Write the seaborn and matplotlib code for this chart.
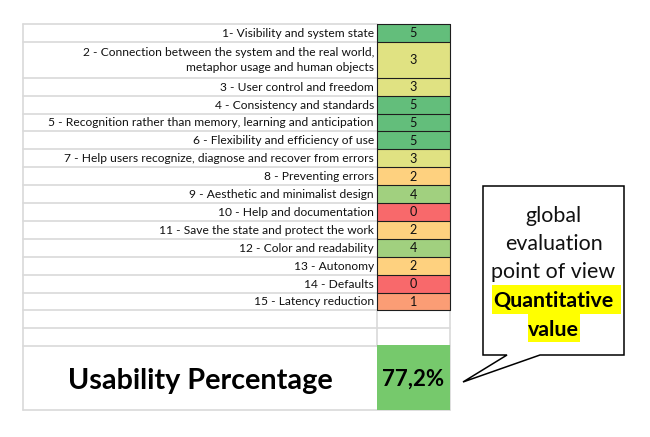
import numpy as np
import pandas as pd
import matplotlib
matplotlib.use("Agg")
import matplotlib.pyplot as plt
import seaborn as sns
from matplotlib import font_manager
from matplotlib.colors import LinearSegmentedColormap
from matplotlib.patches import Polygon, Rectangle

# ---------------- data ----------------
criteria = [
    "1- Visibility and system state",
    "2 - Connection between the system and the real world,\nmetaphor usage and human objects",
    "3 - User control and freedom",
    "4 - Consistency and standards",
    "5 - Recognition rather than memory, learning and anticipation",
    "6 - Flexibility and efficiency of use",
    "7 - Help users recognize, diagnose and recover from errors",
    "8 - Preventing errors",
    "9 - Aesthetic and minimalist design",
    "10 - Help and documentation",
    "11 - Save the state and protect the work",
    "12 - Color and readability",
    "13 - Autonomy",
    "14 - Defaults",
    "15 - Latency reduction",
]
scores = [5, 3, 3, 5, 5, 5, 3, 2, 4, 0, 2, 4, 2, 0, 1]
total_label = "Usability Percentage"
total_value = "77,2%"
callout_lines = ["global", "evaluation", "point of view"]
callout_bold = ["Quantitative", "value"]

# ---------------- layout ----------------
sns.set_theme(style="white")
names = {f.name for f in font_manager.fontManager.ttflist}
FAM = "Lato" if "Lato" in names else "DejaVu Sans"
plt.rcParams["font.family"] = [FAM, "DejaVu Sans"]

W, H = 650, 437
fig = plt.figure(figsize=(W / 100, H / 100), dpi=100)
fig.patch.set_facecolor("white")
ax = fig.add_axes([0, 0, 1, 1])
ax.set_xlim(0, W)
ax.set_ylim(H, 0)
ax.axis("off")
renderer = fig.canvas.get_renderer()


def fit(text, target_px, **kw):
    t = ax.text(0, 0, text, fontsize=10, **kw)
    w = t.get_window_extent(renderer).width
    t.remove()
    return 10 * target_px / w


x_left, x_lab, x_right = 23, 377, 449.5
y_top = 24
unit = 17.9
spans = [2 if "\n" in c else 1 for c in criteria]
bounds = np.concatenate([[0], np.cumsum(spans)])
n_units = bounds[-1]
y_rows = y_top + bounds * unit
y_end = y_rows[-1]
y_empty = [y_end + unit, y_end + 2 * unit]
y_bottom = 410

grid = "#D9D9D9"
glw = 1.2
for y in y_rows:
    ax.plot([x_left, x_lab], [y, y], color=grid, lw=glw, zorder=1)
for y in y_empty:
    ax.plot([x_left, x_right], [y, y], color=grid, lw=glw, zorder=1)
ax.plot([x_left, x_right], [y_bottom, y_bottom], color=grid, lw=glw, zorder=1)
ax.plot([x_left, x_left], [y_top, y_bottom], color=grid, lw=glw, zorder=1)
ax.plot([x_lab, x_lab], [y_end, y_empty[1]], color=grid, lw=glw, zorder=1)
ax.plot([x_right, x_right], [y_end, y_bottom], color=grid, lw=glw, zorder=1)

# labels
fs = fit(criteria[4], 326)
for i, c in enumerate(criteria):
    yc = (y_rows[i] + y_rows[i + 1]) / 2
    ax.text(374, yc + 0.5, c, ha="right", va="center", fontsize=fs,
            color="#111111", linespacing=1.4, multialignment="right", zorder=3)

# ---------------- heatmap of scores ----------------
expanded = np.repeat(scores, spans).reshape(-1, 1)
df = pd.DataFrame(expanded, columns=["score"])
cmap = LinearSegmentedColormap.from_list(
    "excel", [(0, "#F8696B"), (0.5, "#FFEB84"), (1, "#63BE7B")])
hax = fig.add_axes([x_lab / W, 1 - y_end / H, (x_right - x_lab) / W,
                    (y_end - y_top) / H])
sns.heatmap(df, ax=hax, cmap=cmap, vmin=0, vmax=5, cbar=False,
            xticklabels=False, yticklabels=False)
hax.set_xlabel("")
hax.set_ylabel("")
for b in bounds:
    hax.plot([0, 1], [b, b], color="#1E1E1E", lw=0.8, clip_on=False)
hax.plot([0, 0], [0, n_units], color="#1E1E1E", lw=0.8, clip_on=False)
hax.plot([1, 1], [0, n_units], color="#1E1E1E", lw=0.8, clip_on=False)
for i, s in enumerate(scores):
    hax.text(0.5, (bounds[i] + bounds[i + 1]) / 2 + 0.03, str(s), ha="center",
             va="center", fontsize=fs * 1.05, color="#111111")
for sp in hax.spines.values():
    sp.set_visible(False)

# ---------------- total row ----------------
ax.add_patch(Rectangle((x_lab, y_empty[1] - 1), x_right - x_lab,
                       y_bottom - y_empty[1] + 1, facecolor="#76C96C",
                       edgecolor="none", zorder=2))
fsb = fit(total_label, 265, fontweight="bold")
ax.text(200.5, 389, total_label, ha="center", va="baseline", fontsize=fsb,
        fontweight="bold", color="black", zorder=3)
fsv = fit(total_value, 62, fontweight="bold")
ax.text(413, 386, total_value, ha="center", va="baseline", fontsize=fsv,
        fontweight="bold", color="black", zorder=3)

# ---------------- callout ----------------
pts = [(483, 186), (624, 186), (624, 355), (540, 355), (463, 382),
       (507, 355), (483, 355)]
ax.add_patch(Polygon(pts, closed=True, facecolor="white", edgecolor="black",
                     lw=1.1, zorder=4))
fsc = fit("point of view", 124)
xc = 553.5
base = [222.5, 250, 278]
for t, yb in zip(callout_lines, base):
    ax.text(xc, yb, t, ha="center", va="baseline", fontsize=fsc,
            color="#111111", zorder=5)
hl = [(491.5, 285, 129.5, 28.5), (527.5, 313, 52.5, 28.5)]
for (hx, hy, hw, hh) in hl:
    ax.add_patch(Rectangle((hx, hy), hw, hh, facecolor="#FFFF00",
                           edgecolor="none", zorder=4.5))
for t, yb in zip(callout_bold, [307.5, 335.5]):
    ax.text(xc, yb, t, ha="center", va="baseline", fontsize=fsc,
            fontweight="bold", color="black", zorder=5)

fig.savefig("out.png", dpi=100, facecolor="white")
